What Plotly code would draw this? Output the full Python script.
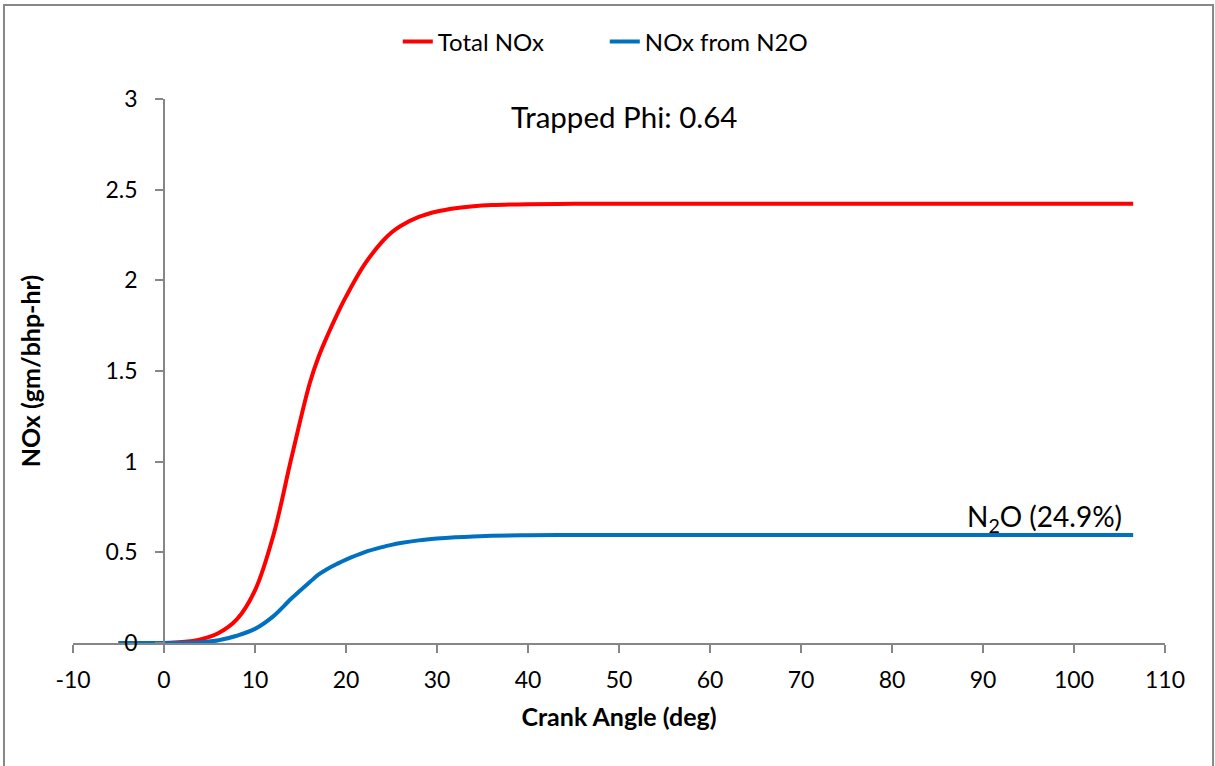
import plotly.graph_objects as go

# Crank angle samples (deg) and cumulative NOx (gm/bhp-hr)
crank_angle = [-5, 0, 2, 4, 6, 8, 10, 12, 14, 16, 17, 18, 19, 20, 22, 24, 25, 26,
               28, 30, 32, 34, 36, 40, 45, 50, 60, 70, 80, 90, 100, 106.5]
total_nox = [0, 0, 0.005, 0.02, 0.055, 0.13, 0.29, 0.59, 1.02, 1.43, 1.58, 1.70,
             1.81, 1.91, 2.085, 2.215, 2.264, 2.3, 2.35, 2.38, 2.398, 2.409,
             2.415, 2.42, 2.422, 2.422, 2.422, 2.422, 2.422, 2.422, 2.422, 2.422]
nox_from_n2o = [0, 0, 0.001, 0.004, 0.015, 0.04, 0.078, 0.147, 0.245, 0.335, 0.378,
                0.41, 0.436, 0.46, 0.50, 0.529, 0.541, 0.551, 0.566, 0.576, 0.583,
                0.588, 0.591, 0.594, 0.596, 0.596, 0.596, 0.596, 0.596, 0.596,
                0.596, 0.596]

x_ticks = list(range(-10, 111, 10))
x_tick_text = [str(v) for v in x_ticks]
y_ticks = [0, 0.5, 1, 1.5, 2, 2.5, 3]
y_tick_text = ["0", "0.5", "1", "1.5", "2", "2.5", "3"]

FONT = "Lato, 'Open Sans', sans-serif"
AXIS_GREY = "#868686"

fig = go.Figure()
fig.add_trace(go.Scatter(
    x=crank_angle, y=total_nox, mode="lines", name="Total NOx",
    line=dict(color="#FF0000", width=4, shape="spline", smoothing=1.0),
))
fig.add_trace(go.Scatter(
    x=crank_angle, y=nox_from_n2o, mode="lines", name="NOx from N2O",
    line=dict(color="#0070C0", width=4, shape="spline", smoothing=1.0),
))

x_min, x_max = -10, 110
fig.update_layout(
    width=1215, height=766,
    margin=dict(l=73, r=50, t=99, b=123),
    paper_bgcolor="white", plot_bgcolor="white",
    font=dict(family=FONT, size=22, color="black"),
    showlegend=True,
    legend=dict(orientation="h", x=0.487, xanchor="center", y=1.105, yanchor="middle",
                font=dict(size=24), entrywidth=162, entrywidthmode="pixels",
                bgcolor="rgba(0,0,0,0)"),
    xaxis=dict(
        range=[x_min, x_max], tickvals=x_ticks, ticktext=x_tick_text,
        showgrid=False, zeroline=False,
        showline=True, linecolor=AXIS_GREY, linewidth=1.5,
        ticks="outside", ticklen=8, tickcolor=AXIS_GREY, tickwidth=1.5,
        ticklabelstandoff=8, tickfont=dict(size=23),
        title=dict(text="<b>Crank Angle (deg)</b>", font=dict(size=25), standoff=16),
    ),
    yaxis=dict(
        range=[0, 3], tickvals=y_ticks, ticktext=y_tick_text, showgrid=False,
        zeroline=False, anchor="free", position=(0 - x_min) / (x_max - x_min),
        showline=True, linecolor=AXIS_GREY, linewidth=1.5,
        ticks="outside", ticklen=8, tickcolor=AXIS_GREY, tickwidth=1.5,
        ticklabelstandoff=13, tickfont=dict(size=23),
        title=dict(text="<b>NOx (gm/bhp-hr)</b>", font=dict(size=25), standoff=57),
    ),
    annotations=[
        dict(x=50.5, y=2.905, xref="x", yref="y", text="Trapped Phi: 0.64",
             showarrow=False, font=dict(size=29.5), xanchor="center", yanchor="middle"),
        dict(x=96.8, y=0.69, xref="x", yref="y", text="N<sub>2</sub>O (24.9%)",
             showarrow=False, font=dict(size=28), xanchor="center", yanchor="middle"),
    ],
    shapes=[
        dict(type="rect", xref="paper", yref="paper", x0=-0.0632, x1=1.044,
             y0=-0.25, y1=1.1728, line=dict(color="#888888", width=2),
             fillcolor="rgba(0,0,0,0)", layer="below"),
    ],
)

fig.write_html("out.html")
